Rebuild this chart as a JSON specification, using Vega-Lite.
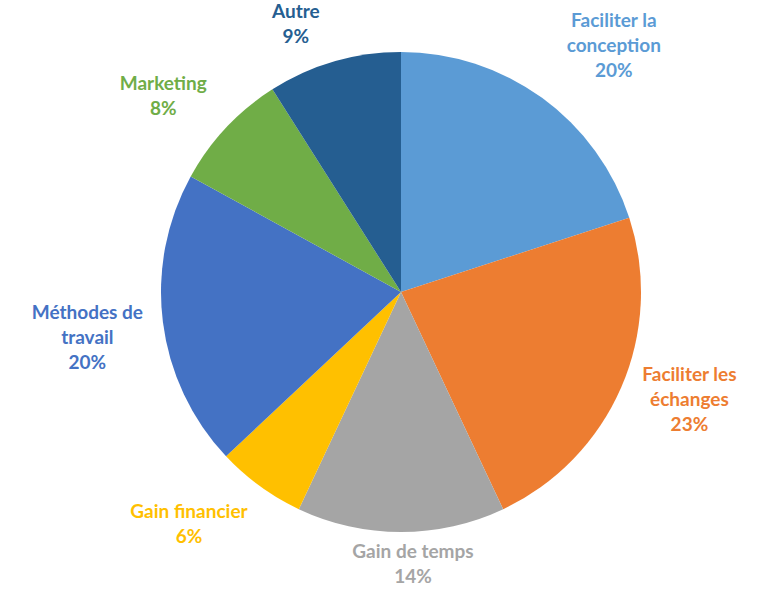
{
  "$schema": "https://vega.github.io/schema/vega-lite/v6.json",
  "width": 746,
  "height": 584,
  "autosize": {"type": "none"},
  "padding": {"left": 28, "right": 0, "top": 0, "bottom": 7},
  "background": "white",
  "config": {"view": {"stroke": null}, "text": {"font": "Lato", "fontWeight": "bold", "fontSize": 19, "lineBreak": "\n", "lineHeight": 25, "align": "center", "baseline": "middle"}},
  "data": {
    "values": [
      {"cat": "Faciliter la conception", "value": 20, "label": "Faciliter la\nconception\n20%", "order": 1},
      {"cat": "Faciliter les échanges", "value": 23, "label": "Faciliter les\néchanges\n23%", "order": 2},
      {"cat": "Gain de temps", "value": 14, "label": "Gain de temps\n14%", "order": 3},
      {"cat": "Gain financier", "value": 6, "label": "Gain financier\n6%", "order": 4},
      {"cat": "Méthodes de travail", "value": 20, "label": "Méthodes de\ntravail\n20%", "order": 5},
      {"cat": "Marketing", "value": 8, "label": "Marketing\n8%", "order": 6},
      {"cat": "Autre", "value": 9, "label": "Autre\n9%", "order": 7}
    ]
  },
  "encoding": {
    "theta": {"field": "value", "type": "quantitative", "stack": true},
    "order": {"field": "order", "type": "quantitative"},
    "color": {
      "field": "cat",
      "type": "nominal",
      "legend": null,
      "scale": {
        "domain": ["Faciliter la conception", "Faciliter les échanges", "Gain de temps", "Gain financier", "Méthodes de travail", "Marketing", "Autre"],
        "range": ["#5B9BD5", "#ED7D31", "#A5A5A5", "#FFC000", "#4472C4", "#70AD47", "#255E91"]
      }
    }
  },
  "layer": [
    {
      "mark": {"type": "arc", "outerRadius": 240}
    },
    {
      "mark": {"type": "text", "radius": 325, "thetaOffset": 0.0855, "dy": -25},
      "encoding": {"text": {"condition": {"test": "datum.order == 1", "field": "label"}, "value": ""}}
    },
    {
      "mark": {"type": "text", "radius": 308, "thetaOffset": -0.05, "dy": -25},
      "encoding": {"text": {"condition": {"test": "datum.order == 2", "field": "label"}, "value": ""}}
    },
    {
      "mark": {"type": "text", "radius": 273, "thetaOffset": -0.044, "dy": -12.5},
      "encoding": {"text": {"condition": {"test": "datum.order == 3", "field": "label"}, "value": ""}}
    },
    {
      "mark": {"type": "text", "radius": 315, "thetaOffset": 0.11, "dy": -12.5},
      "encoding": {"text": {"condition": {"test": "datum.order == 4", "field": "label"}, "value": ""}}
    },
    {
      "mark": {"type": "text", "radius": 317, "thetaOffset": -0.02, "dy": -25},
      "encoding": {"text": {"condition": {"test": "datum.order == 5", "field": "label"}, "value": ""}}
    },
    {
      "mark": {"type": "text", "radius": 308, "thetaOffset": -0.065, "dy": -12.5},
      "encoding": {"text": {"condition": {"test": "datum.order == 6", "field": "label"}, "value": ""}}
    },
    {
      "mark": {"type": "text", "radius": 287, "thetaOffset": -0.0925, "dy": -12.5},
      "encoding": {"text": {"condition": {"test": "datum.order == 7", "field": "label"}, "value": ""}}
    }
  ]
}
